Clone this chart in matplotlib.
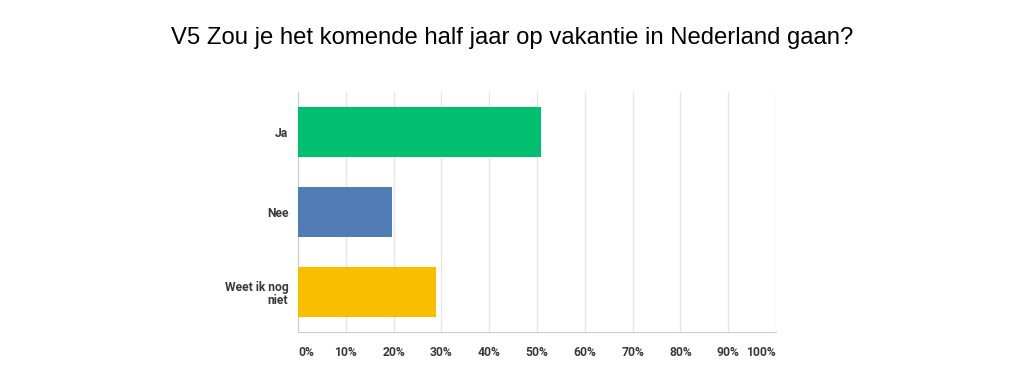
import matplotlib
matplotlib.use('Agg')
import matplotlib.pyplot as plt

# Data
categories = ['Ja', 'Nee', 'Weet ik nog\nniet']
values = [50.8, 19.7, 28.9]
colors = ['#00bf6f', '#507cb6', '#f9be00']
tick_vals = [0, 10, 20, 30, 40, 50, 60, 70, 80, 90, 100]
tick_labels = ['0%', '10%', '20%', '30%', '40%', '50%', '60%', '70%', '80%', '90%', '100%']

W, H = 1024, 385
fig = plt.figure(figsize=(W / 100, H / 100), dpi=100)
ax = fig.add_axes([298 / W, 1 - 332 / H, 478 / W, 240 / H])

ypos = list(range(len(categories)))
ax.barh(ypos, values, height=0.625, color=colors, zorder=3)
ax.set_xlim(0, 100)
ax.set_ylim(2.5, -0.5)

ax.set_xticks(tick_vals)
ax.set_xticklabels(tick_labels)
ax.set_yticks(ypos)
ax.set_yticklabels(categories)
for t in ax.get_yticklabels():
    t.set_horizontalalignment('right')
    t.set_multialignment('right')
    t.set_linespacing(1.05)
xl = ax.get_xticklabels()
xl[0].set_horizontalalignment('left')
xl[-1].set_horizontalalignment('right')

ax.tick_params(axis='both', length=0, labelsize=8.7, labelcolor='#3a3a3a')
ax.tick_params(axis='x', pad=10)
ax.tick_params(axis='y', pad=7)
for t in ax.get_xticklabels() + ax.get_yticklabels():
    t.set_fontweight('bold')
    t.set_fontfamily('Roboto')

ax.grid(axis='x', color='#e6e6e6', linewidth=1, zorder=0)
for s in ['top', 'right']:
    ax.spines[s].set_visible(False)
ax.spines['left'].set_color('#cccccc')
ax.spines['bottom'].set_color('#cccccc')

fig.text(0.5, 1 - 38 / H, 'V5 Zou je het komende half jaar op vakantie in Nederland gaan?',
         ha='center', va='center', fontsize=17.2, family='Liberation Sans', color='#000000')

fig.savefig('out.png', dpi=100)
